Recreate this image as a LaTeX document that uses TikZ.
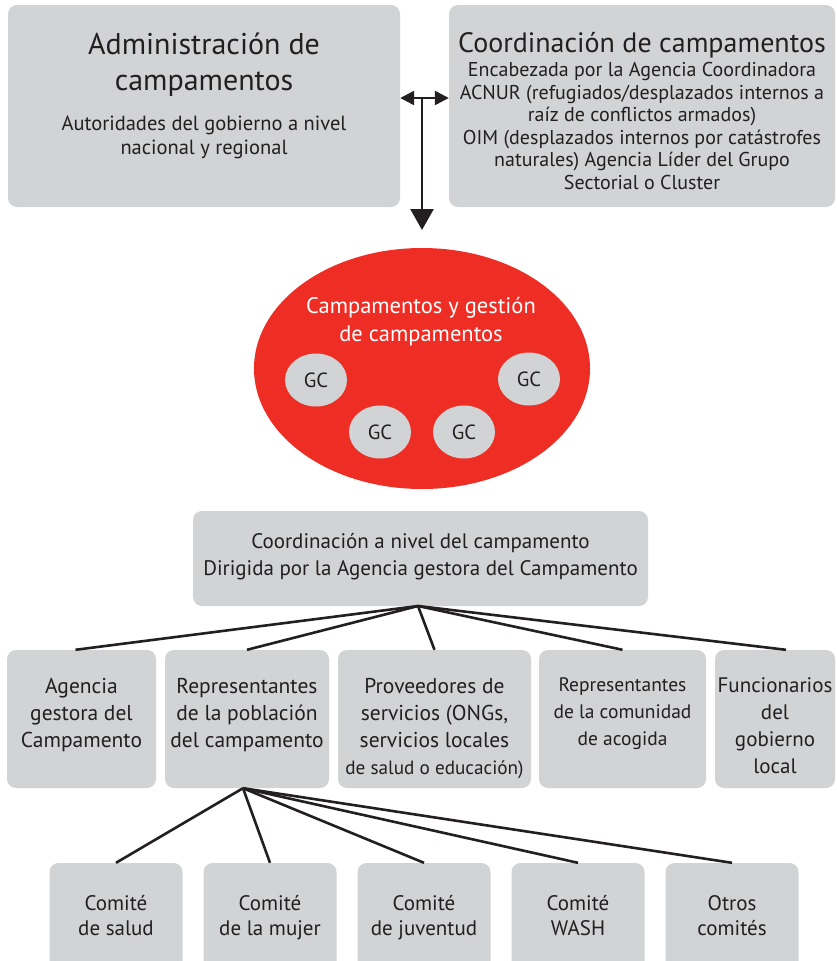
\documentclass[tikz,border=0pt]{standalone}
\usepackage{fontspec}
\setmainfont{PT Sans}
\usetikzlibrary{shapes.geometric, arrows.meta}
\definecolor{boxgray}{HTML}{D1D3D4}
\definecolor{campred}{HTML}{EE2E24}
\definecolor{inkblack}{HTML}{231F20}
\setlength{\lineskiplimit}{-30pt}
\tikzstyle{graybox} = [rectangle, rounded corners=9pt, fill=boxgray, draw=none, text=inkblack, align=center, inner sep=0pt]
\tikzstyle{rowbox} = [graybox, minimum height=138pt]
\tikzstyle{rowtext} = [anchor=north, yshift=-28pt, inner sep=0pt, align=center, text=inkblack, font=\fontsize{21.5}{27}\selectfont, execute at begin node=\strut]
\tikzstyle{cmtbox} = [graybox, minimum width=133pt, minimum height=113pt, font=\fontsize{21}{25}\selectfont, execute at begin node=\strut, execute at end node=\strut]
\tikzstyle{gcnode} = [ellipse, fill=boxgray, minimum width=62pt, minimum height=53pt, inner sep=0pt, text=inkblack, font=\fontsize{20.5}{22}\selectfont]
\tikzstyle{link} = [line width=2.6pt, draw=inkblack]
\tikzstyle{arrow} = [line width=2.6pt, draw=inkblack, -{Triangle[length=21pt,width=23pt]}]
\tikzstyle{biarrow} = [line width=2.4pt, draw=inkblack, {Triangle[length=14pt,width=14pt]}-{Triangle[length=14pt,width=14pt]}]

\begin{document}
\begin{tikzpicture}[x=1pt, y=-1pt, node distance=154pt]
\useasboundingbox (0,0) rectangle (836,961);
                % top level
                \node (admbox) [graybox, minimum width=392pt, minimum height=202pt] at (204,106) {};
                \node (admtitle) [text=inkblack, align=center, font=\fontsize{30}{36}\selectfont] at (204,65) {Administración de\\campamentos};
                \node (admsub) [text=inkblack, align=center, font=\fontsize{20.5}{24}\selectfont] at (204,137.5) {Autoridades del gobierno a nivel\\nacional y regional};
                \node (coordbox) [graybox, minimum width=386pt, minimum height=202pt] at (642,106) {};
                \node (coordtitle) [text=inkblack, font=\fontsize{28}{30}\selectfont] at (642,45) {Coordinación de campamentos};
                \node (coordsub) [text=inkblack, align=center, font=\fontsize{20}{22.5}\selectfont] at (642,126) {Encabezada por la Agencia Coordinadora\\ACNUR (refugiados/desplazados internos a\\raíz de conflictos armados)\\OIM (desplazados internos por catástrofes\\naturales) Agencia Líder del Grupo\\Sectorial o Cluster};

                % camps
                \node (camps) [ellipse, fill=campred, minimum width=336pt, minimum height=241pt] at (422,368.5) {};
                \node (campstitle) [text=white, align=center, font=\fontsize{22.5}{28.5}\selectfont] at (421,321.5) {Campamentos y gestión\\de campamentos};
                \node (gc1) [gcnode] at (316,380) {GC};
                \node (gc2) [gcnode] at (529,379) {GC};
                \node (gc3) [gcnode] at (380,432) {GC};
                \node (gc4) [gcnode] at (464,432) {GC};

                \coordinate (hub) at (422,98);
                \coordinate (droptip) at (422,230);
                \draw [biarrow] (hub -| admbox.east) -- (hub -| coordbox.west);
                \draw [arrow] (hub) -- (droptip);

                % camp level
                \node (camplevel) [graybox, minimum width=455pt, minimum height=95pt, font=\fontsize{21}{26.5}\selectfont, execute at begin node=\strut, execute at end node=\strut] at (420.5,558.5) {Coordinación a nivel del campamento\\Dirigida por la Agencia gestora del Campamento};
                \node (agency) [rowbox, minimum width=149pt] at (81.5,719) {};
                \node (population) [rowbox, minimum width=164pt, right of=agency, xshift=11.5pt] {};
                \node (providers) [rowbox, minimum width=193pt, right of=population, xshift=33.5pt] {};
                \node (hostcom) [rowbox, minimum width=167pt, right of=providers, xshift=34pt] {};
                \node (officials) [rowbox, minimum width=120pt, right of=hostcom, xshift=-1.5pt] {};
                \node (agencytext) [rowtext] at (agency.north) {Agencia\\gestora del\\Campamento};
                \node (populationtext) [rowtext] at (population.north) {Representantes\\de la población\\del campamento};
                \node (providerstext) [rowtext] at (providers.north) {Proveedores de\\servicios (ONGs,\\servicios locales\\{\fontsize{19.2}{27}\selectfont de salud o educación)}};
                \node (hostcomtext) [rowtext, font=\fontsize{19.5}{27}\selectfont] at (hostcom.north) {Representantes\\de la comunidad\\de acogida};
                \node (officialstext) [rowtext, font=\fontsize{21}{27}\selectfont] at (officials.north) {Funcionarios\\del\\gobierno\\local};

                \coordinate (apex) at (418,606);
                \draw [link] (apex) -- ([xshift=-6pt]agency.north);
                \draw [link] (apex) -- (population.north);
                \draw [link] (apex) -- (providers.north);
                \draw [link] (apex) -- (hostcom.north);
                \draw [link] (apex) -- ([xshift=11pt]officials.north);

                % committees
                \node (health) [cmtbox] at (116,919.5) {Comité\\de salud};
                \node (women) [cmtbox, right of=health] {Comité\\de la mujer};
                \node (youth) [cmtbox, right of=women] {Comité\\de juventud};
                \node (wash) [cmtbox, right of=youth] {Comité\\WASH};
                \node (others) [cmtbox, right of=wash] {Otros\\comités};

                \foreach \cmt in {health, women, youth, wash, others}
                    \draw [link] ([xshift=-4pt]population.south) -- (\cmt.north);
\end{tikzpicture}
\end{document}
